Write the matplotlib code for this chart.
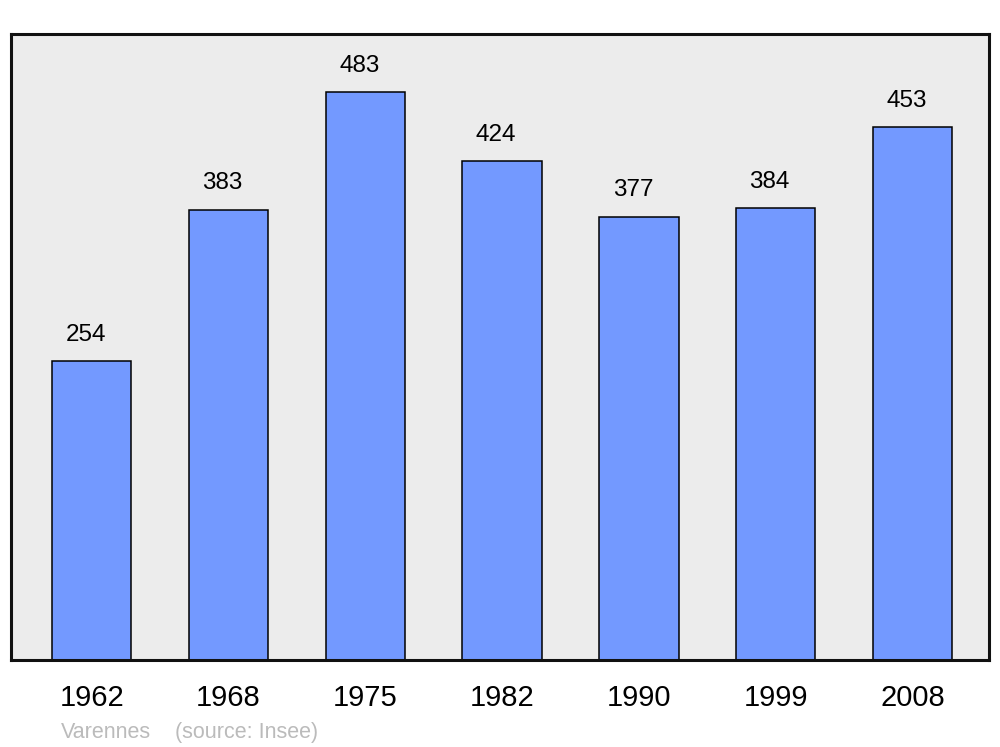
import numpy as np
import matplotlib.pyplot as plt

years = ["1962", "1968", "1975", "1982", "1990", "1999", "2008"]
population = [254, 383, 483, 424, 377, 384, 453]

plt.rcParams['font.family'] = ['Liberation Sans', 'DejaVu Sans']

fig = plt.figure(figsize=(10, 7.47), dpi=100)
ax = fig.add_axes([0.011, 0.1165, 0.978, 0.838])
ax.set_facecolor("#ececec")

x = np.arange(len(years))
ax.bar(x, population, width=0.58, color="#7399ff", edgecolor="black", linewidth=1.1)

# value labels above bars
for xi, v in zip(x, population):
    ax.annotate(str(v), (xi, v), xytext=(-4.3, 19), textcoords="offset points",
                ha="center", va="center", fontsize=17.5)

ax.set_xlim(-0.59, 6.56)
ax.set_ylim(0, 532.3)
ax.set_xticks(x)
ax.set_xticklabels(years, fontsize=21)
ax.tick_params(axis="x", length=0, pad=17)
ax.set_yticks([])
for s in ax.spines.values():
    s.set_linewidth(2.2)
    s.set_color("#111111")
    s.set_joinstyle("round")

fig.text(0.061, 0.0125, "Varennes", color="#bbbbbb", fontsize=15.5)
fig.text(0.175, 0.0125, "(source: Insee)", color="#bbbbbb", fontsize=15.5)

fig.savefig("out.png", dpi=100)
